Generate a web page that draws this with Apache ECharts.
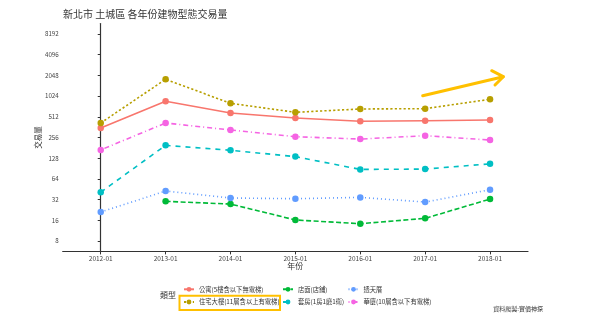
<!DOCTYPE html>
<html>
<head>
<meta charset="utf-8">
<script src="https://cdn.jsdelivr.net/npm/echarts@6/dist/echarts.min.js"></script>
<style>html,body{margin:0;padding:0;background:#fff;}#c{width:598px;height:324px;}</style>
</head>
<body>
<div id="c"></div>
<script>
// ---- data ----
const xLabels = ['2012-01','2013-01','2014-01','2015-01','2016-01','2017-01','2018-01'];
const yTicks = [8,16,32,64,128,256,512,1024,2048,4096,8192];
const seriesNames = ['公寓(5樓含以下無電梯)','住宅大樓(11層含以上有電梯)','店面(店鋪)','套房(1房1廳1衛)','透天厝','華廈(10層含以下有電梯)'];
const apartment   = [352, 860, 582, 492, 440, 449, 460];
const tower       = [416, 1797, 804, 595, 665, 672, 920];
const shop        = [null, 30.2, 27.6, 16.2, 14.3, 17.1, 32.6];
const studio      = [41, 197, 167, 135, 88, 89, 106];
const townhouse   = [21.1, 42.7, 33.8, 33, 34.5, 29.5, 44.6];
const midrise     = [169, 416, 329, 263, 243, 272, 235];
const allValues = [apartment, tower, shop, studio, townhouse, midrise];

const colors = ['#F8766D','#B79F00','#00BA38','#00BFC4','#619CFF','#F564E3'];
const dashes = ['solid',[2.2,2.2],[5,2.5],[5,5],[1,3],[1,3,5,3]];

const chart = echarts.init(document.getElementById('c'), null, {renderer:'canvas'});
const FONT = '"Noto Sans CJK TC","Noto Sans",sans-serif';

const series = seriesNames.map((n,i)=>({
  name:n, type:'line',
  data: allValues[i].map((v,k)=> v==null ? null : [k, Math.log2(v)]).filter(d=>d!==null),
  symbol:'circle', symbolSize:6.5,
  itemStyle:{color:colors[i]},
  lineStyle:{color:colors[i], width:1.6, type:dashes[i]},
  z: 2+i
}));

const legendBase = {orient:'vertical', itemWidth:10, itemHeight:6, itemGap:4.7, padding:0,
  textStyle:{fontSize:6.3, color:'#333', fontFamily:FONT, lineHeight:8}};

chart.setOption({
  animation:false,
  textStyle:{fontFamily:FONT},
  title:[
    {text:'新北市 土城區 各年份建物型態交易量', left:63, top:9, padding:0,
     textStyle:{fontSize:10, fontWeight:'normal', color:'#333', fontFamily:FONT}},
    {text:'類型', left:160, top:291, padding:0,
     textStyle:{fontSize:8, fontWeight:'normal', color:'#333', fontFamily:FONT}},
    {text:'資料爬製:實價神探', right:55, top:306, padding:0,
     textStyle:{fontSize:6, fontWeight:'normal', color:'#333', fontFamily:FONT}}
  ],
  grid:{left:62.7, right:70, top:23.6, bottom:72.6, containLabel:false},
  xAxis:{type:'value', min:-0.586, max:6.585,
    name:'年份', nameLocation:'middle', nameGap:11, nameMoveOverlap:false,
    nameTextStyle:{fontSize:8, color:'#333', fontFamily:FONT},
    axisLine:{show:true, lineStyle:{color:'#333', width:1.2}},
    axisTick:{show:true, length:3, lineStyle:{color:'#333'}, customValues:xLabels.map((s,i)=>i)},
    axisLabel:{fontSize:6.5, color:'#444', margin:4, customValues:xLabels.map((s,i)=>i),
      formatter:(v)=>xLabels[Math.round(v)] || ''},
    splitLine:{show:false}},
  yAxis:{type:'value', min:2.5, max:13.5,
    name:'交易量', nameLocation:'middle', nameGap:21, nameRotate:90, nameMoveOverlap:false,
    nameTextStyle:{fontSize:7.5, color:'#333', fontFamily:FONT},
    axisLine:{show:true, lineStyle:{color:'#333', width:1.2}},
    axisTick:{show:true, length:3, lineStyle:{color:'#333'}, customValues:yTicks.map(t=>Math.log2(t))},
    axisLabel:{fontSize:6.2, color:'#444', margin:4, customValues:yTicks.map(t=>Math.log2(t)),
      formatter:(v)=>String(Math.round(Math.pow(2,v)))},
    splitLine:{show:false}},
  legend:[
    Object.assign({left:183, top:285.3, data:[seriesNames[0], seriesNames[1]]}, legendBase),
    Object.assign({left:282, top:285.3, data:[seriesNames[2], seriesNames[3]]}, legendBase),
    Object.assign({left:347.5, top:285.3, data:[seriesNames[4], seriesNames[5]]}, legendBase)
  ],
  graphic:[
    {type:'rect', shape:{x:179.5, y:295.8, width:100.5, height:14.2},
     style:{fill:null, stroke:'#FFC000', lineWidth:2}, z:100},
    {type:'polyline', shape:{points:[[422.7,95.7],[503.3,76.7]]},
     style:{stroke:'#FFC000', lineWidth:3, lineCap:'round', fill:null}, z:100},
    {type:'polyline', shape:{points:[[491.7,70.7],[503.3,76.7],[495,85]]},
     style:{stroke:'#FFC000', lineWidth:3, lineCap:'round', lineJoin:'round', fill:null}, z:100}
  ],
  series: series
});
</script>
</body>
</html>
